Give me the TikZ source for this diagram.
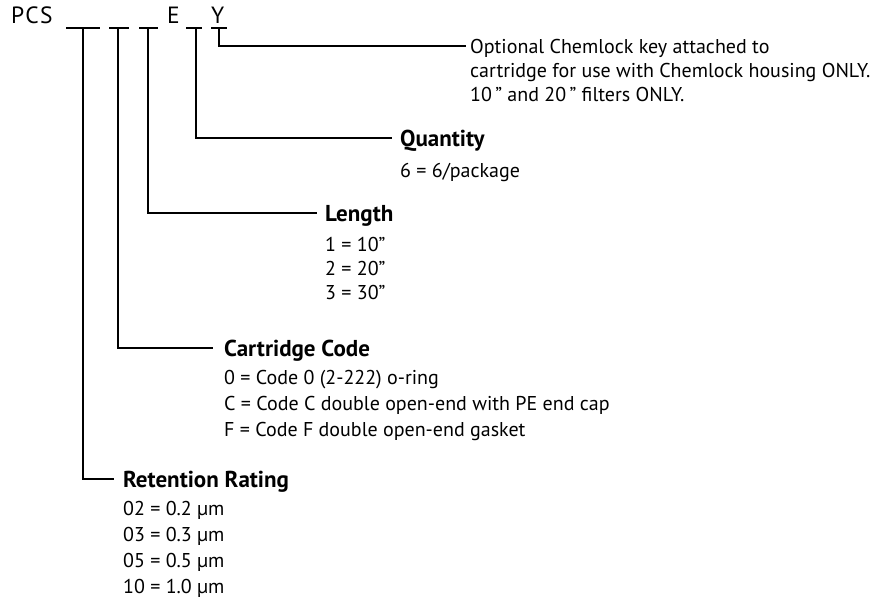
\documentclass[tikz,border=0pt]{standalone}
\usepackage{fontspec}
\setmainfont{PT Sans}
\newfontfamily\codefont[LetterSpace=6]{PT Sans}
\begin{document}
\begin{tikzpicture}[x=1pt,y=-1pt,
  ln/.style={line width=1.7pt},
  txt/.style={anchor=base west,inner sep=0pt,font=\fontsize{20}{24}\selectfont},
  head/.style={anchor=base west,inner sep=0pt,font=\fontsize{23}{27}\selectfont\bfseries},
  code/.style={anchor=base west,inner sep=0pt,font=\codefont\fontsize{23.5}{28}\selectfont}]
\useasboundingbox (0,0) rectangle (870,603);
% code line
\node[code] (pcs) at (11,23) {PCS};
\node[code] (e) at (167,23) {E};
\node[code] (y) at (211,23) {Y};
\draw[ln] (66,28) -- (100,28);
\draw[ln] (109,28) -- (129,28);
\draw[ln] (139,28) -- (158,28);
\draw[ln] (186,28) -- (202,28);
\draw[ln] (211,28) -- (227,28);
\coordinate (b1) at (83,28);
\coordinate (b2) at (118,28);
\coordinate (b3) at (148,28);
\coordinate (b4) at (196,28);
\coordinate (b5) at (219,28);
% ends of connectors
\coordinate (c5) at (466,46);
\coordinate (c4) at (392,138);
\coordinate (c3) at (317,213);
\coordinate (c2) at (213,348);
\coordinate (c1) at (114,479);
\draw[ln] (b5) |- (c5);
\draw[ln] (b4) |- (c4);
\draw[ln] (b3) |- (c3);
\draw[ln] (b2) |- (c2);
\draw[ln] (b1) |- (c1);
% optional
\node[txt] (o1) at (470,53) {Optional Chemlock key attached to};
\node[txt] (o2) at (470,77) {cartridge for use with Chemlock housing ONLY.};
\node[txt] (o3) at (470,101) {10\,\char"22\ and 20\,\char"22\ filters ONLY.};
% quantity
\node[head] (qh) at (400,146) {Quantity};
\node[txt] (q1) at (400,177) {6 = 6/package};
% length
\node[head] (lh) at (325,221) {Length};
\node[txt] (l1) at (325,251) {1 = 10\char"22};
\node[txt] (l2) at (325,275) {2 = 20\char"22};
\node[txt] (l3) at (325,299) {3 = 30\char"22};
% cartridge
\node[head] (ch) at (224,356) {Cartridge Code};
\node[txt] (k1) at (224,384) {0 = Code 0 (2-222) o-ring};
\node[txt] (k2) at (224,410) {C = Code C double open-end with PE end cap};
\node[txt] (k3) at (224,436) {F = Code F double open-end gasket};
% retention
\node[head] (rh) at (123,487) {Retention Rating};
\node[txt] (r1) at (123,515) {02 = 0.2 µm};
\node[txt] (r2) at (123,541) {03 = 0.3 µm};
\node[txt] (r3) at (123,567) {05 = 0.5 µm};
\node[txt] (r4) at (123,593) {10 = 1.0 µm};
\end{tikzpicture}
\end{document}
